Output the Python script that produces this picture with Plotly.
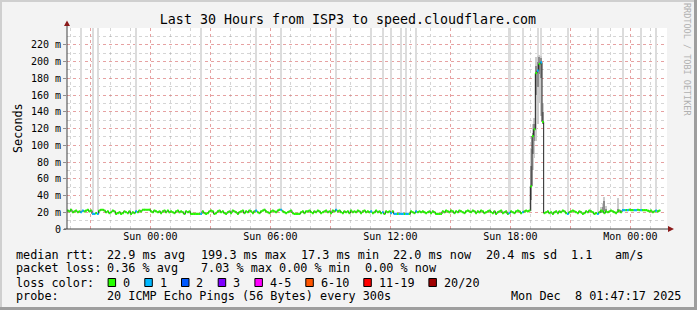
import plotly.graph_objects as go
import pandas as pd

# ---------------- data ----------------
START = "2025-12-06 19:50:00"
STEP_MIN = 5
Y_MAX = 240

median_ms = [
    22, 21, 23, 20, 21, 22, 20, 21, 20, 22, 21, 22,
    23, 21, 22, 18, 18, 19, 18, 22, 23, 23, 22, 20,
    21, 19, 20, 22, 21, 18, 19, 20, 18, 19, 21, 20,
    19, 21, 18, 20, 19, 21, 20, 22, 21, 23, 23, 23,
    23, 23, 21, 20, 22, 21, 20, 21, 19, 21, 22, 20,
    22, 20, 21, 20, 19, 21, 22, 20, 21, 20, 18, 21,
    20, 21, 18, 18, 18, 18, 18, 18, 18, 21, 19, 18,
    19, 21, 22, 21, 18, 19, 21, 22, 20, 21, 19, 18,
    20, 21, 19, 22, 21, 20, 18, 20, 21, 22, 19, 21,
    20, 22, 21, 19, 21, 22, 20, 19, 21, 22, 23, 21,
    20, 19, 21, 22, 21, 20, 22, 23, 23, 21, 20, 19,
    20, 21, 22, 19, 18, 18, 18, 18, 20, 21, 19, 21,
    21, 22, 20, 19, 21, 20, 22, 21, 19, 20, 21, 22,
    20, 21, 19, 22, 21, 23, 21, 22, 20, 19, 21, 20,
    21, 19, 22, 20, 21, 20, 22, 21, 19, 21, 22, 20,
    21, 20, 21, 19, 20, 22, 20, 21, 19, 20, 18, 21,
    20, 21, 19, 21, 18, 18, 18, 18, 18, 18, 18, 18,
    18, 18, 21, 20, 19, 21, 20, 21, 20, 21, 20, 19,
    20, 21, 19, 21, 20, 18, 18, 18, 18, 21, 20, 22,
    21, 20, 22, 21, 19, 21, 20, 22, 21, 20, 19, 21,
    22, 21, 20, 22, 21, 19, 21, 20, 22, 21, 19, 20,
    21, 22, 20, 19, 21, 18, 20, 21, 22, 19, 20, 21,
    18, 19, 21, 20, 19, 21, 22, 21, 19, 20, 21, 22,
    21, 22, 51, 111, 119, 186, 189, 197, 199, 128, 19, 20,
    21, 19, 20, 18, 20, 21, 19, 21, 20, 22, 21, 19,
    18, 20, 21, 22, 21, 20, 19, 21, 20, 18, 19, 21,
    20, 22, 21, 20, 18, 19, 18, 20, 22, 21, 19, 21,
    20, 21, 22, 21, 20, 19, 21, 22, 20, 22.5, 22.5, 22.5,
    22.5, 23, 22.5, 22.5, 22.5, 22.5, 23, 22.5, 22.5, 22.5, 22.5, 22.5,
    22, 21, 22, 20, 21, 22, 21, 22,
]

# probes (index of 5-minute step) where 1 of 20 pings was lost
loss_one_idx = [8, 9, 15, 16, 18, 41, 80, 113, 128, 161, 182, 189, 194, 196, 197,
                199, 200, 201, 203, 204, 209, 265, 273, 282, 284, 300, 318, 333,
                334, 336, 340, 341, 344, 353]

# steps where the slowest pings reach beyond the top of the graph
outlier_idx = [8, 15, 18, 41, 80, 113, 128, 161, 182, 189, 194, 200, 203, 209,
               265, 273, 282, 284, 300, 318, 333, 344, 353]

# smoke (spread of the 20 pings) where it is visible
smoke_idx = [278, 279, 280, 281, 282, 283, 284, 285, 320, 321, 322, 323, 330]
smoke_light_lo = [22, 70, 85, 105, 125, 150, 135, 125, 19, 19, 19, 19, 19]
smoke_light_hi = [95, 125, 132, 205, 207, 208, 207, 150, 26, 30, 38, 28, 37]
smoke_dark_lo = [35, 90, 105, 160, 170, 185, 180, 125, 20, 20, 21, 20, 20]
smoke_dark_hi = [75, 115, 125, 195, 200, 205, 204, 140, 22, 26, 33, 24, 24]

loss_labels = ["0", "1", "2", "3", "4-5", "6-10", "11-19", "20/20"]
loss_colors = ["#26ff00", "#00b8ff", "#0059ff", "#7e00ff", "#ff00ff",
               "#ff5500", "#ff0000", "#a00000"]

y_tick_vals = [0, 20, 40, 60, 80, 100, 120, 140, 160, 180, 200, 220]
y_tick_text = ["0", "20 m", "40 m", "60 m", "80 m", "100 m", "120 m", "140 m",
               "160 m", "180 m", "200 m", "220 m"]
x_tick_times = ["2025-12-07 00:00", "2025-12-07 06:00", "2025-12-07 12:00",
                "2025-12-07 18:00", "2025-12-08 00:00"]
x_tick_text = ["Sun 00:00", "Sun 06:00", "Sun 12:00", "Sun 18:00", "Mon 00:00"]

title_text = "Last 30 Hours from ISP3 to speed.cloudflare.com"
legend_rtt = ["median rtt:", "22.9 ms avg", "199.3 ms max", "17.3 ms min",
              "22.0 ms now", "20.4 ms sd", "1.1", "am/s"]
legend_loss = ["packet loss:", "0.36 % avg", "7.03 % max", "0.00 % min", "0.00 % now"]
legend_line3 = "loss color:"
legend_probe = ["probe:", "20 ICMP Echo Pings (56 Bytes) every 300s"]
stamp_text = "Mon Dec  8 01:47:17 2025"

# ---------------- layout constants ----------------
W, H = 697, 310
ML, MR, MT, MB = 67, 30, 28, 81
PW, PH = W - ML - MR, H - MT - MB
RTT_X = [16, 107.3, 201, 301, 393.3, 486.7, 571.7, 615]
LOSS_X = [16, 107.3, 201, 279.3, 365.7]
PROBE_X = [16, 107.3]

start = pd.Timestamp(START)
step = pd.Timedelta(minutes=STEP_MIN)
n = len(median_ms)
t = [start + step * i for i in range(n + 1)]
loss = [0] * n
for i in loss_one_idx:
    loss[i] = 1


def px_x(px):
    return (px - ML) / PW


def px_y(py):
    return (H - MB - py) / PH


mono = "DejaVu Sans Mono"
fig = go.Figure()

# outlier bars (full-height light grey)
fig.add_trace(go.Bar(
    x=[t[i] + step / 2 for i in outlier_idx],
    base=[median_ms[i] for i in outlier_idx],
    y=[Y_MAX - median_ms[i] for i in outlier_idx],
    width=[step.total_seconds() * 1000 * 1.3] * len(outlier_idx),
    marker=dict(color="#dcdcdc", line=dict(width=0)),
    hoverinfo="skip", showlegend=False))

# smoke
fig.add_trace(go.Bar(
    x=[t[i] + step / 2 for i in smoke_idx],
    base=smoke_light_lo,
    y=[h - l for h, l in zip(smoke_light_hi, smoke_light_lo)],
    width=[step.total_seconds() * 1000] * len(smoke_idx),
    marker=dict(color="#cccccc", line=dict(width=0)),
    hoverinfo="skip", showlegend=False))
fig.add_trace(go.Bar(
    x=[t[i] + step / 2 for i in smoke_idx],
    base=smoke_dark_lo,
    y=[h - l for h, l in zip(smoke_dark_hi, smoke_dark_lo)],
    width=[step.total_seconds() * 1000] * len(smoke_idx),
    marker=dict(color="#8c8c8c", line=dict(width=0)),
    hoverinfo="skip", showlegend=False))

# median line (black step line)
fig.add_trace(go.Scatter(
    x=t, y=median_ms + [median_ms[-1]], mode="lines",
    line=dict(color="#202020", width=1, shape="hv"),
    hoverinfo="skip", showlegend=False))

# loss-colored median boxes
for lvl in sorted(set(loss)):
    xs, ys = [], []
    for i in range(n):
        if loss[i] == lvl:
            xs += [t[i], t[i + 1], None]
            ys += [median_ms[i], median_ms[i], None]
    fig.add_trace(go.Scatter(
        x=xs, y=ys, mode="lines",
        line=dict(color=loss_colors[lvl], width=2.2),
        hoverinfo="skip", showlegend=False))

# x ticks: major every 3 h (red grid), labels every 6 h
major = pd.date_range(start.ceil("3h"), start + pd.Timedelta(hours=30), freq="3h")
lab = {pd.Timestamp(a): b for a, b in zip(x_tick_times, x_tick_text)}
xt_vals = list(major)
xt_text = [lab.get(v, "") for v in major]

grid_major = "rgba(255,90,90,0.42)"
grid_minor = "rgba(150,150,150,0.4)"

fig.update_xaxes(
    type="date", range=[start, start + pd.Timedelta(hours=30)],
    tickmode="array", tickvals=xt_vals, ticktext=xt_text,
    showgrid=True, gridcolor=grid_major, griddash="dot", gridwidth=1,
    ticks="",
    tickfont=dict(family=mono, size=10, color="#000"),
    minor=dict(dtick=3600000, tick0=start.ceil("1h"), showgrid=True,
               gridcolor=grid_minor, griddash="dot"),
    showline=False, zeroline=False, fixedrange=True)
fig.update_yaxes(
    range=[0, Y_MAX], tickmode="array", tickvals=y_tick_vals, ticktext=y_tick_text,
    showgrid=True, gridcolor=grid_major, griddash="dot", gridwidth=1,
    ticks="outside", ticklen=3, tickcolor="#909090",
    tickfont=dict(family=mono, size=10, color="#000"),
    minor=dict(dtick=10, showgrid=True, gridcolor=grid_minor, griddash="dot"),
    showline=False, zeroline=False, fixedrange=True)

shapes = []
# frame
for (x0, y0, x1, y1, c) in [(0, 0, W, 2, "#cfcfcf"), (0, 0, 2, H, "#cfcfcf"),
                            (0, H - 3, W, H, "#9e9e9e"), (W - 3, 0, W, H, "#9e9e9e")]:
    shapes.append(dict(type="rect", xref="paper", yref="paper",
                       x0=px_x(x0), x1=px_x(x1), y0=px_y(y1), y1=px_y(y0),
                       fillcolor=c, line=dict(width=0), layer="above"))
# axes with arrows
shapes.append(dict(type="line", xref="paper", yref="paper",
                   x0=px_x(ML), x1=px_x(ML), y0=px_y(H - MB), y1=px_y(22),
                   line=dict(color="#404040", width=1), layer="above"))
shapes.append(dict(type="line", xref="paper", yref="paper",
                   x0=px_x(ML - 3), x1=px_x(671), y0=px_y(H - MB), y1=px_y(H - MB),
                   line=dict(color="#404040", width=1), layer="above"))
ya, xa = px_y, px_x
shapes.append(dict(type="path", xref="paper", yref="paper",
                   path=f"M {xa(64)} {ya(26)} L {xa(70)} {ya(26)} L {xa(67)} {ya(20.5)} Z",
                   fillcolor="#8b1a1a", line=dict(width=0), layer="above"))
shapes.append(dict(type="path", xref="paper", yref="paper",
                   path=f"M {xa(668)} {ya(H-MB-3)} L {xa(668)} {ya(H-MB+3)} L {xa(674)} {ya(H-MB)} Z",
                   fillcolor="#8b1a1a", line=dict(width=0), layer="above"))

annotations = []


def text(s, px, py, size=11.8, xanchor="left", color="#000", angle=0):
    annotations.append(dict(text=s.replace(" ", "&nbsp;"), x=px_x(px), y=px_y(py),
                            xref="paper", yref="paper",
                            xanchor=xanchor, yanchor="middle", showarrow=False,
                            textangle=angle, borderpad=0, borderwidth=0,
                            font=dict(family=mono, size=size, color=color)))


CW = 7.1
LX = 16
for s, x in zip(legend_rtt, RTT_X):
    text(s, x - 0.5, 254.5)
for s, x in zip(legend_loss, LOSS_X):
    text(s, x - 0.5, 268)
text(legend_line3, LX - 0.5, 282.5)
for s, x in zip(legend_probe, PROBE_X):
    text(s, x - 0.5, 296.3)
text(stamp_text, 681, 296.3, xanchor="right")

bx = LX + 13 * CW - 0.2
for lbl, col in zip(loss_labels, loss_colors):
    shapes.append(dict(type="rect", xref="paper", yref="paper",
                       x0=px_x(bx), x1=px_x(bx + 7.5), y0=px_y(286.5), y1=px_y(278.5),
                       fillcolor=col, line=dict(color="#000", width=1), layer="above"))
    text(lbl, bx + 15, 282.5)
    bx = bx + 15 + len(lbl) * CW + 14.6

text("Seconds", 11, 128, angle=-90)
text("RRDTOOL / TOBI OETIKER", 687, 59, size=8.5, xanchor="center", color="#b0b0b0", angle=90)

fig.update_layout(
    width=W, height=H, margin=dict(l=ML, r=MR, t=MT, b=MB, autoexpand=False),
    paper_bgcolor="#f3f3f3", plot_bgcolor="#ffffff",
    barmode="overlay", bargap=0, showlegend=False,
    title=dict(text=title_text, x=348 / W, xref="container", xanchor="center",
               y=1 - 19 / H, yref="container", yanchor="middle",
               font=dict(family=mono, size=13.3, color="#000")),
    shapes=shapes, annotations=annotations,
)

fig.write_html("out.html")
